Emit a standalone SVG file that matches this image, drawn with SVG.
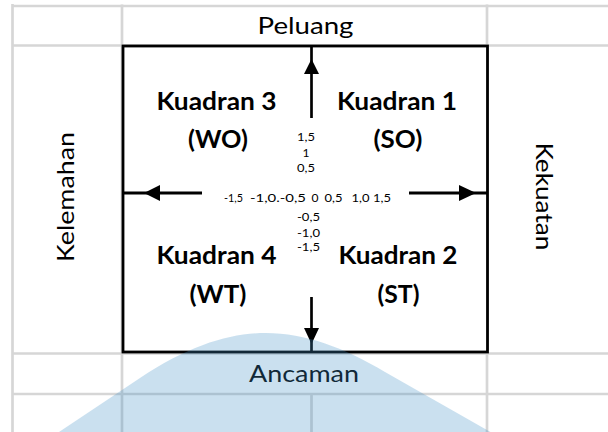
<svg xmlns="http://www.w3.org/2000/svg" width="608" height="432" viewBox="0 0 608 432">
  <style>
    .grid { stroke: #d6d6d6; stroke-width: 2.7; fill: none; }
    .frame { stroke: #000; stroke-width: 2.8; fill: #fff; }
    .axis { stroke: #000; stroke-width: 2.7; fill: none; }
    .axis.wide { stroke-width: 3.2; }
    .head { fill: #000; }
    .lbl { font-family: "Lato", "Carlito", "Liberation Sans", sans-serif; fill: #000; }
    .side { font-size: 24px; }
    .quad { font-size: 25px; font-weight: bold; }
    .tick { font-size: 12px; }
    .mark { fill: #3f8fc4; opacity: 0.28; }
  </style>

  <rect width="608" height="432" fill="#fff"/>

  <!-- spreadsheet grid -->
  <g id="grid">
    <line class="grid" x1="12" y1="6" x2="608" y2="6"/>
    <line class="grid" x1="12" y1="45.5" x2="608" y2="45.5"/>
    <line class="grid" x1="12" y1="353.5" x2="608" y2="353.5"/>
    <line class="grid" x1="12" y1="394" x2="608" y2="394"/>
    <line class="grid" x1="12.5" y1="4" x2="12.5" y2="432"/>
    <line class="grid" x1="122" y1="4.5" x2="122" y2="432"/>
    <line class="grid" x1="487" y1="4.5" x2="487" y2="432"/>
    <line class="grid" x1="311.5" y1="394" x2="311.5" y2="432"/>
  </g>

  <!-- matrix frame -->
  <g id="matrix">
    <rect class="frame" x="123" y="46" width="364.5" height="306"/>
  </g>

  <!-- axes -->
  <g id="connectors">
    <line class="axis" x1="311.5" y1="46" x2="311.5" y2="118"/>
    <polygon class="head" points="311.5,59 304,74 319,74"/>
    <line class="axis" x1="311.5" y1="297" x2="311.5" y2="352"/>
    <polygon class="head" points="311.5,344 304,328 319,328"/>
    <line class="axis wide" x1="123" y1="193" x2="202" y2="193"/>
    <polygon class="head" points="144,193 160,185 160,201"/>
    <line class="axis wide" x1="409" y1="193" x2="487" y2="193"/>
    <polygon class="head" points="476,193 459,185 459,201"/>
  </g>

  <g id="peluang"><text class="lbl side" x="305.5" y="34" text-anchor="middle" textLength="96" lengthAdjust="spacingAndGlyphs">Peluang</text></g>
  <g id="ancaman"><text class="lbl side" x="304" y="382" text-anchor="middle" textLength="110" lengthAdjust="spacingAndGlyphs">Ancaman</text></g>
  <g id="kelemahan"><text class="lbl side" transform="translate(74 197) rotate(-90)" text-anchor="middle" textLength="130" lengthAdjust="spacingAndGlyphs">Kelemahan</text></g>
  <g id="kekuatan"><text class="lbl side" transform="translate(536 196.5) rotate(90)" text-anchor="middle" textLength="108" lengthAdjust="spacingAndGlyphs">Kekuatan</text></g>

  <g id="kuadran3">
    <text class="lbl quad" x="216.5" y="110" text-anchor="middle" textLength="120" lengthAdjust="spacingAndGlyphs">Kuadran 3</text>
    <text class="lbl quad" x="218" y="148" text-anchor="middle" textLength="60" lengthAdjust="spacingAndGlyphs">(WO)</text>
  </g>
  <g id="kuadran1">
    <text class="lbl quad" x="397" y="110" text-anchor="middle" textLength="120" lengthAdjust="spacingAndGlyphs">Kuadran 1</text>
    <text class="lbl quad" x="398" y="148" text-anchor="middle" textLength="49" lengthAdjust="spacingAndGlyphs">(SO)</text>
  </g>
  <g id="kuadran4">
    <text class="lbl quad" x="216.5" y="264" text-anchor="middle" textLength="120" lengthAdjust="spacingAndGlyphs">Kuadran 4</text>
    <text class="lbl quad" x="218" y="303" text-anchor="middle" textLength="57" lengthAdjust="spacingAndGlyphs">(WT)</text>
  </g>
  <g id="kuadran2">
    <text class="lbl quad" x="398" y="264" text-anchor="middle" textLength="119" lengthAdjust="spacingAndGlyphs">Kuadran 2</text>
    <text class="lbl quad" x="398.5" y="303" text-anchor="middle" textLength="42" lengthAdjust="spacingAndGlyphs">(ST)</text>
  </g>

  <!-- scale values -->
  <g id="scale">
    <text class="lbl tick" x="297" y="141" textLength="18" lengthAdjust="spacingAndGlyphs">1,5</text>
    <text class="lbl tick" x="306" y="157" text-anchor="middle">1</text>
    <text class="lbl tick" x="297" y="172" textLength="18" lengthAdjust="spacingAndGlyphs">0,5</text>
    <text class="lbl tick" x="224" y="202" textLength="19" lengthAdjust="spacingAndGlyphs">-1,5</text>
    <text class="lbl tick" x="250" y="202" textLength="56" lengthAdjust="spacingAndGlyphs">-1,0.-0,5</text>
    <text class="lbl tick" x="311.5" y="202" textLength="7" lengthAdjust="spacingAndGlyphs">0</text>
    <text class="lbl tick" x="324.5" y="202" textLength="18" lengthAdjust="spacingAndGlyphs">0,5</text>
    <text class="lbl tick" x="351.5" y="202" textLength="18" lengthAdjust="spacingAndGlyphs">1,0</text>
    <text class="lbl tick" x="373" y="202" textLength="18" lengthAdjust="spacingAndGlyphs">1,5</text>
    <text class="lbl tick" x="297" y="221" textLength="23" lengthAdjust="spacingAndGlyphs">-0,5</text>
    <text class="lbl tick" x="297" y="237" textLength="23" lengthAdjust="spacingAndGlyphs">-1,0</text>
    <text class="lbl tick" x="297" y="251" textLength="23" lengthAdjust="spacingAndGlyphs">-1,5</text>
  </g>

  <!-- translucent dome watermark -->
  <path class="mark" d="M56 434 L140 378 C190 345 230 333 266 333 C305 333 345 348 385 372 L494 434 Z"/>
</svg>
